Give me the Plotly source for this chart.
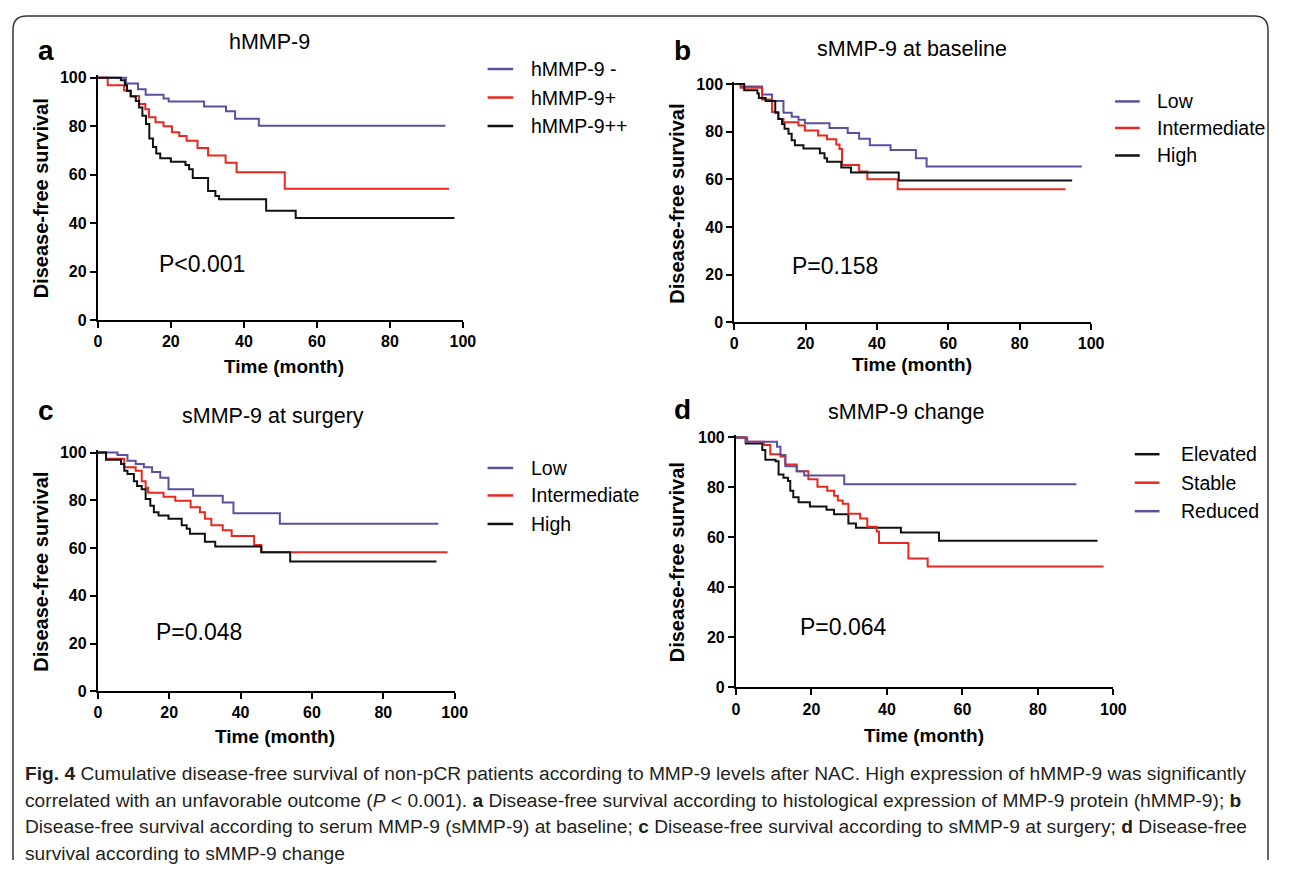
import plotly.graph_objects as go

# ---------------- data ----------------
# Panel a: hMMP-9
a_names = ["hMMP-9 -", "hMMP-9+", "hMMP-9++"]
a_neg_t = [0, 7.7, 11, 13.1, 18, 19.4, 29.1, 35.1, 37.6, 44.1, 95.2]
a_neg_s = [100, 97.7, 95.3, 93, 91.5, 90.2, 88.2, 86.2, 83.1, 80.2, 80.2]
a_pos_t = [0, 2.7, 7.2, 9, 11.3, 13, 14, 15.8, 18, 20.3, 22.3, 24.3, 27.3, 30.2, 35, 38, 51.2, 96.2]
a_pos_s = [100, 97, 94.8, 92.5, 89.2, 87, 83.7, 81.7, 80, 77.6, 76, 74, 71, 68, 65, 61, 54.2, 54.2]
a_pp_t = [0, 6.3, 7.4, 8, 9, 10.4, 11.3, 12.2, 13.2, 14.1, 15.1, 16, 17.1, 20, 24, 25, 26, 30.2, 32.2, 33.2, 46.1, 54.2, 97.7]
a_pp_s = [100, 99, 97, 94.6, 92.3, 90.5, 87.8, 84.4, 81, 75, 71.5, 68.8, 66.8, 65.4, 64, 62.3, 58.7, 53.3, 51.2, 49.9, 45.1, 42.1, 42.1]

# Panel b: sMMP-9 at baseline
b_names = ["Low", "Intermediate", "High"]
b_low_t = [0, 1.8, 7.8, 10.6, 13.8, 16.1, 18, 19.8, 26.7, 31.8, 35, 38, 43.8, 50.9, 53.9, 97.4]
b_low_s = [100, 99, 95.6, 92.9, 88, 86.3, 85, 83.5, 81.5, 79.5, 77, 74.3, 72.3, 68.8, 65.4, 65.4]
b_int_t = [0, 1.8, 7.8, 10.6, 12.3, 13.8, 18, 19.8, 23.5, 26, 28.6, 29.5, 30.2, 35, 37.3, 45.8, 92.8]
b_int_s = [100, 98.4, 93.5, 88.3, 85.3, 84, 82.6, 80.5, 78.4, 76.8, 74.6, 72.7, 66, 63.3, 60, 55.8, 55.8]
b_high_t = [0, 2.8, 6.5, 6.9, 8.8, 11.5, 12.4, 13.4, 14.1, 15.2, 16.1, 17, 19.4, 24, 25.3, 26, 30, 32.7, 46.1, 94.7]
b_high_s = [100, 97.4, 96, 94.2, 92.9, 88, 85.3, 83.2, 81.2, 79.1, 76.4, 74.3, 72.9, 70.9, 68.8, 67.4, 65, 62.9, 59.5, 59.5]

# Panel c: sMMP-9 at surgery
c_names = ["Low", "Intermediate", "High"]
c_low_t = [0, 5.5, 8.3, 10.6, 12.9, 15.2, 17.5, 19.8, 26.7, 35, 38, 51, 95.4]
c_low_s = [100, 99, 96.6, 95.2, 93.8, 91.8, 89.4, 84.6, 81.9, 79.1, 74.6, 70.2, 70.2]
c_int_t = [0, 2.3, 7.4, 10.6, 12.3, 13.4, 14.1, 18.4, 21.7, 26, 28.6, 30, 31.8, 35, 37.5, 43.8, 45.8, 98]
c_int_s = [100, 97.4, 93.8, 92.4, 88, 85.3, 83.2, 81.5, 79.8, 77.1, 75, 72.3, 69.5, 67.4, 65, 61.3, 58.2, 58.2]
c_high_t = [0, 2.3, 6.5, 7.4, 8.3, 10.1, 11, 12.3, 13.4, 14.7, 15.7, 17, 19.8, 23.5, 24.9, 25.8, 30, 32.9, 45.8, 53.9, 94.9]
c_high_s = [100, 97, 95.2, 92.4, 91, 88, 86, 84.6, 80.5, 77.7, 75, 73.6, 72.3, 69.5, 68.1, 66, 62.6, 60.6, 58.2, 54.4, 54.4]

# Panel d: sMMP-9 change
d_names = ["Elevated", "Stable", "Reduced"]
d_elev_t = [0, 2.6, 7, 7.8, 10.5, 11.3, 12.6, 13.8, 14.4, 15.2, 16.6, 19.6, 24, 26, 29.8, 31.8, 43.7, 53.8, 95.8]
d_elev_s = [100, 97.6, 95, 91.1, 90.5, 85.2, 83.9, 82.6, 78.7, 76.1, 74.1, 72.4, 71.1, 69.3, 65.6, 63.9, 62, 58.7, 58.7]
d_stab_t = [0, 3, 7.4, 9.1, 11.8, 13.1, 16.1, 19.2, 21.6, 24.2, 26, 27, 28.3, 29.8, 32.9, 34.8, 37.3, 37.9, 45.7, 50.8, 97.4]
d_stab_s = [100, 98.3, 97, 93.3, 92.4, 89.2, 86.5, 83.3, 80.3, 78.7, 76.7, 74.8, 73.5, 69.5, 67.6, 64.3, 62.4, 57.8, 51.6, 48.4, 48.4]
d_red_t = [0, 2.6, 10.9, 11.8, 13.1, 16.1, 18.1, 28.7, 90.2]
d_red_s = [100, 98.3, 96.3, 93, 88.5, 86.5, 84.8, 81.3, 81.3]

x_ticks = [0, 20, 40, 60, 80, 100]
y_ticks = [0, 20, 40, 60, 80, 100]

panel_letters = ["a", "b", "c", "d"]
panel_titles = ["hMMP-9", "sMMP-9 at baseline", "sMMP-9 at surgery", "sMMP-9 change"]
p_values = ["P<0.001", "P=0.158", "P=0.048", "P=0.064"]

caption_lines = [
    "<b>Fig. 4</b> Cumulative disease-free survival of non-pCR patients according to MMP-9 levels after NAC. High expression of hMMP-9 was significantly",
    "correlated with an unfavorable outcome (<i>P</i> < 0.001). <b>a</b> Disease-free survival according to histological expression of MMP-9 protein (hMMP-9); <b>b</b>",
    "Disease-free survival according to serum MMP-9 (sMMP-9) at baseline; <b>c</b> Disease-free survival according to sMMP-9 at surgery; <b>d</b> Disease-free",
    "survival according to sMMP-9 change",
]

# ---------------- styling / layout ----------------
# the page body has an 8px margin: the figure is sized to fit inside the window
OFF = 8
W, H = 1290 - 2 * OFF, 877 - 2 * OFF
BLUE = "#5b4f9f"
RED = "#e8281e"
BLACK = "#111111"
FONT = "Liberation Sans, Arial, sans-serif"
CAP_FONT = "Liberation Sans, Arial, sans-serif"


def fx(px):
    return (px - OFF) / W


def fy(py):
    return 1 - (py - OFF) / H


panels = [
    dict(series=[(a_neg_t, a_neg_s, a_names[0], BLUE), (a_pos_t, a_pos_s, a_names[1], RED), (a_pp_t, a_pp_s, a_names[2], BLACK)],
         x0=95, x1=465, y0=319.5, y100=73,
         letter=(42, 45), title=(269, 37), ytitle=(37, 196), xtitle=(284, 367), pval=(201, 262),
         leg_x=(490, 516), leg_tx=532, leg_y=[64, 93, 122]),
    dict(series=[(b_low_t, b_low_s, b_names[0], BLUE), (b_int_t, b_int_s, b_names[1], RED), (b_high_t, b_high_s, b_names[2], BLACK)],
         x0=740, x1=1101.7, y0=321.7, y100=79.3,
         letter=(688, 45), title=(920, 44), ytitle=(682, 201), xtitle=(920, 365), pval=(842, 264),
         leg_x=(1126, 1151), leg_tx=1166, leg_y=[97, 124, 152]),
    dict(series=[(c_low_t, c_low_s, c_names[0], BLUE), (c_int_t, c_int_s, c_names[1], RED), (c_high_t, c_high_s, c_names[2], BLACK)],
         x0=95, x1=456.7, y0=697.3, y100=454.3,
         letter=(42, 412), title=(273, 417), ytitle=(37, 576), xtitle=(275, 743), pval=(198, 637),
         leg_x=(490, 516), leg_tx=532, leg_y=[470, 498, 527]),
    dict(series=[(d_elev_t, d_elev_s, d_names[0], BLACK), (d_stab_t, d_stab_s, d_names[1], RED), (d_red_t, d_red_s, d_names[2], BLUE)],
         x0=741.7, x1=1124.3, y0=693.3, y100=439,
         letter=(688, 411), title=(915, 413), ytitle=(682, 566), xtitle=(932, 742), pval=(851, 632),
         leg_x=(1146, 1171), leg_tx=1191, leg_y=[456, 485, 514]),
]

fig = go.Figure()
annotations = []
shapes = []
YMAX = 101

for i, p in enumerate(panels):
    n = "" if i == 0 else str(i + 1)
    xa, ya = "x" + n, "y" + n
    for (t, s, name, col) in p["series"]:
        fig.add_trace(go.Scatter(x=t, y=s, mode="lines", line=dict(color=col, width=2, shape="hv"),
                                 name=name, showlegend=False, xaxis=xa, yaxis=ya))
    scale = (p["y0"] - p["y100"]) / 100.0
    ytop = p["y0"] - YMAX * scale
    axis_common = dict(showline=True, linecolor="black", linewidth=2, ticks="outside", ticklen=6,
                       tickwidth=2, tickcolor="black", showgrid=False, zeroline=False,
                       tickfont=dict(family=FONT, size=16, color="black", weight="bold"))
    fig.layout["xaxis" + n] = dict(domain=[fx(p["x0"]), fx(p["x1"])], range=[0, 100], anchor=ya,
                                   tickvals=x_ticks, **axis_common)
    fig.layout["yaxis" + n] = dict(domain=[fy(p["y0"]), fy(ytop)], range=[0, YMAX], anchor=xa,
                                   tickvals=y_ticks, **axis_common)

    # panel letter and title
    annotations.append(dict(x=fx(p["letter"][0]), y=fy(p["letter"][1]), xref="paper", yref="paper",
                            text="<b>" + panel_letters[i] + "</b>", showarrow=False,
                            font=dict(family=FONT, size=28, color="black"), xanchor="center", yanchor="middle"))
    annotations.append(dict(x=fx(p["title"][0]), y=fy(p["title"][1]), xref="paper", yref="paper",
                            text=panel_titles[i], showarrow=False,
                            font=dict(family=FONT, size=21.5, color="black"), xanchor="center", yanchor="middle"))
    annotations.append(dict(x=fx(p["ytitle"][0]), y=fy(p["ytitle"][1]), xref="paper", yref="paper",
                            text="<b>Disease-free survival</b>", textangle=-90, showarrow=False,
                            font=dict(family=FONT, size=20, color="black"), xanchor="center", yanchor="middle"))
    annotations.append(dict(x=fx(p["xtitle"][0]), y=fy(p["xtitle"][1]), xref="paper", yref="paper",
                            text="<b>Time (month)</b>", showarrow=False,
                            font=dict(family=FONT, size=19, color="black"), xanchor="center", yanchor="middle"))
    annotations.append(dict(x=fx(p["pval"][0]), y=fy(p["pval"][1]), xref="paper", yref="paper",
                            text=p_values[i], showarrow=False,
                            font=dict(family=FONT, size=23, color="black"), xanchor="center", yanchor="middle"))
    # legend
    for (t, s, name, col), ly in zip(p["series"], p["leg_y"]):
        shapes.append(dict(type="line", xref="paper", yref="paper", x0=fx(p["leg_x"][0]), x1=fx(p["leg_x"][1]),
                           y0=fy(ly), y1=fy(ly), line=dict(color=col, width=2.5)))
        annotations.append(dict(x=fx(p["leg_tx"]), y=fy(ly), xref="paper", yref="paper", text=name,
                                showarrow=False, font=dict(family=FONT, size=19.5, color="black"),
                                xanchor="left", yanchor="middle"))

# caption
cap_y = [781, 808, 835, 862]
for line, cy in zip(caption_lines, cap_y):
    annotations.append(dict(x=fx(19), y=fy(cy), xref="paper", yref="paper", text=line, showarrow=False,
                            font=dict(family=CAP_FONT, size=19.2, color="#231f20"), xanchor="left", yanchor="middle"))

# frame around the figure (rounded top corners, open at the bottom as in the reference)
r = 14
x0b, x1b, y0b, y1b = 9, 1281, 10, 869
path = (f"M {fx(x0b)},{fy(y1b)} L {fx(x0b)},{fy(y0b + r)} Q {fx(x0b)},{fy(y0b)} {fx(x0b + r)},{fy(y0b)} "
        f"L {fx(x1b - r)},{fy(y0b)} Q {fx(x1b)},{fy(y0b)} {fx(x1b)},{fy(y0b + r)} L {fx(x1b)},{fy(y1b)}")
shapes.append(dict(type="path", xref="paper", yref="paper", path=path, line=dict(color="#333333", width=1.5)))

fig.update_layout(width=W, height=H, margin=dict(l=0, r=0, t=0, b=0), autosize=False,
                  paper_bgcolor="white", plot_bgcolor="white", showlegend=False,
                  annotations=annotations, shapes=shapes, font=dict(family=FONT))

fig.write_html("out.html")
